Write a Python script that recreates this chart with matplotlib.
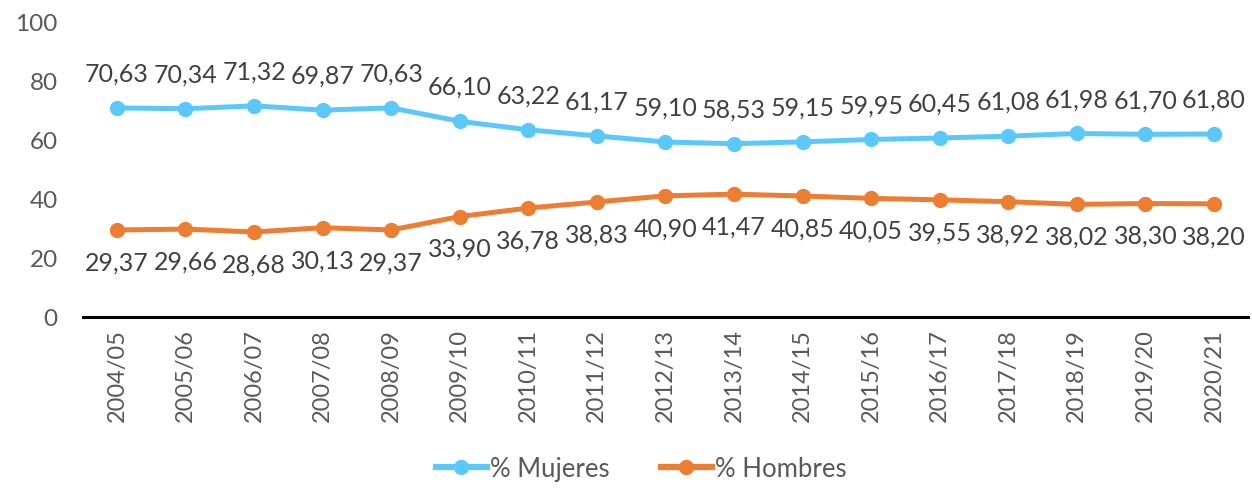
import matplotlib.pyplot as plt

# Data
cursos = ['2004/05', '2005/06', '2006/07', '2007/08', '2008/09', '2009/10', '2010/11',
          '2011/12', '2012/13', '2013/14', '2014/15', '2015/16', '2016/17', '2017/18',
          '2018/19', '2019/20', '2020/21']
mujeres = [70.63, 70.34, 71.32, 69.87, 70.63, 66.10, 63.22, 61.17, 59.10, 58.53,
           59.15, 59.95, 60.45, 61.08, 61.98, 61.70, 61.80]
hombres = [29.37, 29.66, 28.68, 30.13, 29.37, 33.90, 36.78, 38.83, 40.90, 41.47,
           40.85, 40.05, 39.55, 38.92, 38.02, 38.30, 38.20]

plt.rcParams['font.family'] = ['Lato', 'DejaVu Sans']

fig = plt.figure(figsize=(12.52, 4.89), dpi=100)
ax = fig.add_axes([0.066, 0.35, 0.931, 0.605])

x = list(range(len(cursos)))
c_muj = '#5BC8FB'
c_hom = '#ED7D31'
ax.plot(x, mujeres, color=c_muj, lw=3.6, marker='o', ms=10, label='% Mujeres')
ax.plot(x, hombres, color=c_hom, lw=3.6, marker='o', ms=10, label='% Hombres')

# Data labels
for xi, v in zip(x, mujeres):
    ax.annotate(f'{v:.2f}'.replace('.', ','), (xi, v), xytext=(0, 25), textcoords='offset points',
                ha='center', va='center', fontsize=18, color='#404040')
for xi, v in zip(x, hombres):
    ax.annotate(f'{v:.2f}'.replace('.', ','), (xi, v), xytext=(0, -23), textcoords='offset points',
                ha='center', va='center', fontsize=18, color='#404040')

ax.set_xlim(-0.5, len(cursos) - 0.5)
ax.set_ylim(0, 100)
ax.set_yticks([0, 20, 40, 60, 80, 100])
ax.set_xticks(x)
ax.set_xticklabels(cursos, rotation=90)
ax.tick_params(axis='both', length=0, labelsize=17, labelcolor='#595959')
ax.tick_params(axis='y', labelsize=17.5, pad=18)
ax.tick_params(axis='x', pad=8)

for s in ['top', 'right', 'left']:
    ax.spines[s].set_visible(False)
ax.spines['bottom'].set_linewidth(2.2)
ax.spines['bottom'].set_color('black')

leg = fig.legend(loc='center', bbox_to_anchor=(0.512, 0.04), ncol=2, frameon=False,
                 fontsize=18.5, handlelength=2.0, columnspacing=2.0, handletextpad=0.1)
for t in leg.get_texts():
    t.set_color('#595959')
for h in leg.legend_handles:
    h.set_linewidth(4.5)

fig.savefig('out.png', dpi=100)
